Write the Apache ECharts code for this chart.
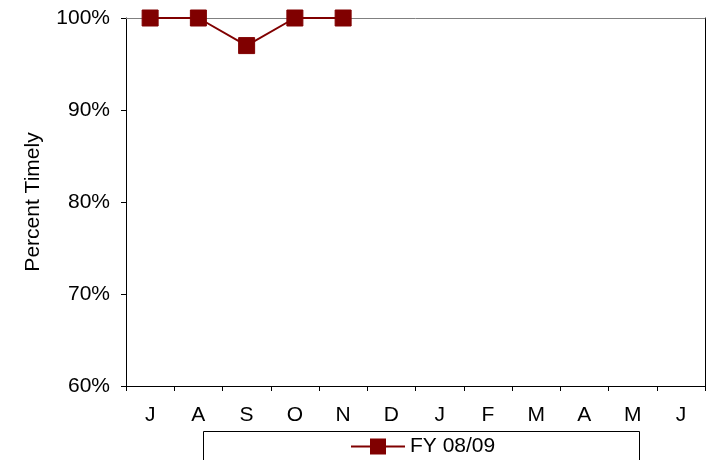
<!DOCTYPE html>
<html><head><meta charset="utf-8">
<script src="https://cdn.jsdelivr.net/npm/echarts@6/dist/echarts.min.js"></script>
<style>html,body{margin:0;padding:0;background:#fff}#c{width:710px;height:460px}</style>
</head><body><div id="c"></div>
<script>
var months = ['J','A','S','O','N','D','J','F','M','A','M','J'];
var seriesName = 'FY 08/09';
var timely = [100, 100, 97, 100, 100];
var yMin = 60, yMax = 100, yStep = 10;
var font = '"Liberation Sans", Arial, sans-serif';
var fs = 21;
var chart = echarts.init(document.getElementById('c'));
chart.setOption({
  animation: false,
  backgroundColor: '#fff',
  grid: {left: 126, right: 5, top: 18, bottom: 74, show: false},
  xAxis: [{
    type: 'category', data: months, boundaryGap: true, position: 'bottom',
    axisLine: {lineStyle: {color: '#000', width: 1}},
    axisTick: {show: true, length: 5, inside: false, alignWithLabel: false, lineStyle: {color: '#000'}},
    axisLabel: {color: '#000', fontSize: fs, fontFamily: font, margin: 19, interval: 0},
    splitLine: {show: false}
  }, {
    type: 'category', data: months, position: 'top',
    axisLine: {show: true, lineStyle: {color: '#808080', width: 1}},
    axisTick: {show: false}, axisLabel: {show: false}, splitLine: {show: false}
  }],
  yAxis: [{
    type: 'value', min: yMin, max: yMax, interval: yStep,
    name: 'Percent Timely', nameLocation: 'middle', nameGap: 82, nameRotate: 90,
    nameTextStyle: {color: '#000', fontSize: fs, fontFamily: font},
    axisLine: {show: true, lineStyle: {color: '#000', width: 1}},
    axisTick: {show: true, length: 5, lineStyle: {color: '#000'}},
    axisLabel: {color: '#000', fontSize: fs, fontFamily: font, margin: 16, formatter: '{value}%'},
    splitLine: {show: false}
  }, {
    type: 'value', min: yMin, max: yMax, interval: yStep, position: 'right',
    axisLine: {show: true, lineStyle: {color: '#000', width: 1}},
    axisTick: {show: false}, axisLabel: {show: false}, splitLine: {show: false}
  }],
  legend: {
    data: [seriesName], left: 350, top: 436, itemWidth: 54, itemHeight: 20, itemGap: 0, padding: 0,
    textStyle: {color: '#000', fontSize: fs, fontFamily: font}
  },
  graphic: [{
    type: 'rect', shape: {x: 203.5, y: 431.5, width: 436, height: 40},
    style: {fill: 'none', stroke: '#000', lineWidth: 1}, z: -1
  }],
  series: [{
    name: seriesName, type: 'line', data: timely,
    symbol: 'rect', symbolSize: 16,
    lineStyle: {color: '#800000', width: 2},
    itemStyle: {color: '#800000', borderColor: '#800000'},
    z: 5
  }]
});
</script></body></html>
